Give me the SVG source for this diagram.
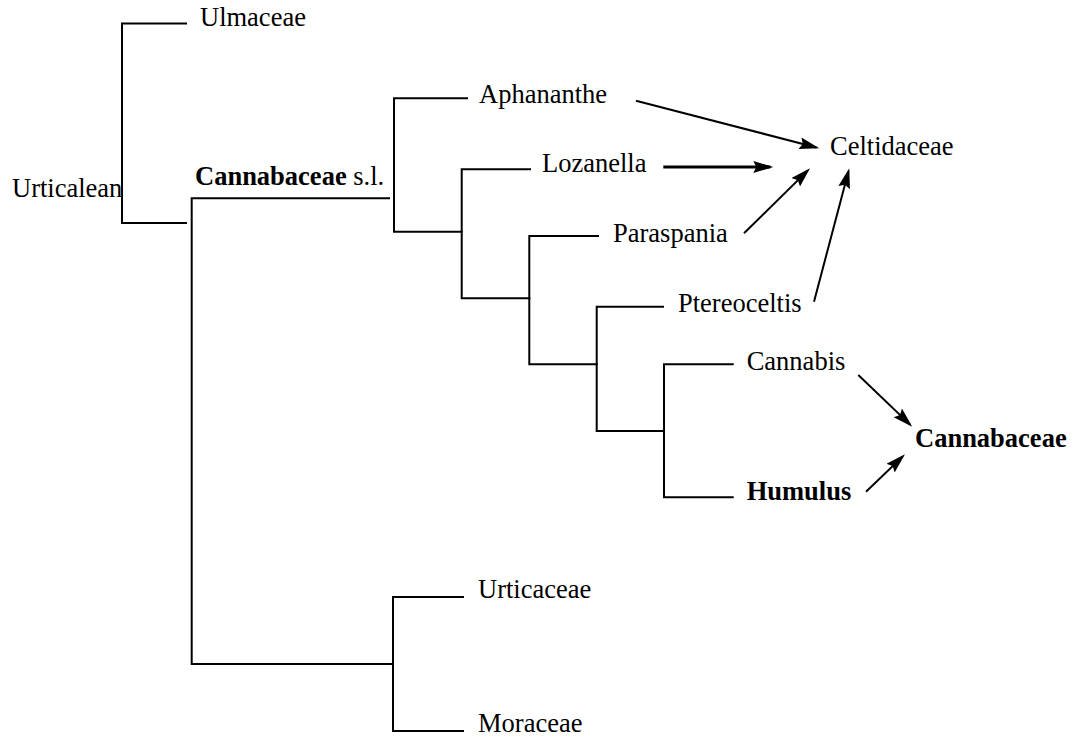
<svg xmlns="http://www.w3.org/2000/svg" width="1077" height="742" viewBox="0 0 1077 742">
  <style>
    .branch { fill: none; stroke: #000; stroke-width: 2; stroke-linecap: square; }
    .link { fill: none; stroke: #000; stroke-width: 2; }
    .link.heavy { stroke-width: 3; }
    .label { font-family: "Liberation Serif", "Times New Roman", serif; font-size: 26.5px; fill: #000; }
    .bold { font-weight: bold; }
  </style>
  <defs>
    <marker id="head" markerUnits="userSpaceOnUse" markerWidth="22" markerHeight="14" refX="17" refY="6" orient="auto">
      <path d="M0,0 L20,6 L0,12 L3,6 Z" fill="#000"/>
    </marker>
  </defs>

  <rect width="1077" height="742" fill="#fff"/>

  <!-- tree branches -->
  <g id="tree">
    <path class="branch" d="M186,23.5 H122 V223 H186"/>
    <path class="branch" d="M389,198.3 H191.7 V664 H393"/>
    <path class="branch" d="M463,597 H393 V731 H463"/>
    <path class="branch" d="M467,98.3 H394 V231.7 H461.7"/>
    <path class="branch" d="M530,169.3 H461.7 V298.3 H529.3"/>
    <path class="branch" d="M598,236 H529.3 V364.3 H596.7"/>
    <path class="branch" d="M663,306.7 H596.7 V431 H664"/>
    <path class="branch" d="M732.7,364.3 H664 V497.3 H732.7"/>
  </g>

  <!-- taxon labels -->
  <g id="n-urticalean"><text class="label" x="12" y="197">Urticalean</text></g>
  <g id="n-ulmaceae"><text class="label" x="200" y="26">Ulmaceae</text></g>
  <g id="n-cannabaceae-sl"><text class="label" x="195" y="185"><tspan class="bold">Cannabaceae</tspan> s.l.</text></g>
  <g id="n-aphananthe"><text class="label" x="479" y="103">Aphananthe</text></g>
  <g id="n-lozanella"><text class="label" x="542" y="172">Lozanella</text></g>
  <g id="n-paraspania"><text class="label" x="613" y="242">Paraspania</text></g>
  <g id="n-ptereoceltis"><text class="label" x="678" y="312">Ptereoceltis</text></g>
  <g id="n-cannabis"><text class="label" x="746.7" y="370">Cannabis</text></g>
  <g id="n-humulus"><text class="label bold" x="746.7" y="500">Humulus</text></g>
  <g id="n-urticaceae"><text class="label" x="478" y="598">Urticaceae</text></g>
  <g id="n-moraceae"><text class="label" x="478" y="732">Moraceae</text></g>
  <g id="n-celtidaceae"><text class="label" x="830" y="155">Celtidaceae</text></g>
  <g id="n-cannabaceae"><text class="label bold" x="915" y="447">Cannabaceae</text></g>

  <!-- reassignment arrows -->
  <g id="connectors">
    <line class="link" x1="636" y1="100.7" x2="816.4" y2="147.5" marker-end="url(#head)"/>
    <line class="link heavy" x1="663.3" y1="167" x2="770.3" y2="167" marker-end="url(#head)"/>
    <line class="link" x1="744" y1="233.3" x2="807.9" y2="170.4" marker-end="url(#head)"/>
    <line class="link" x1="814" y1="301.7" x2="848.5" y2="171.2" marker-end="url(#head)"/>
    <line class="link" x1="858.3" y1="375" x2="910.1" y2="424.6" marker-end="url(#head)"/>
    <line class="link" x1="866" y1="491.7" x2="902.8" y2="456.4" marker-end="url(#head)"/>
  </g>
</svg>
